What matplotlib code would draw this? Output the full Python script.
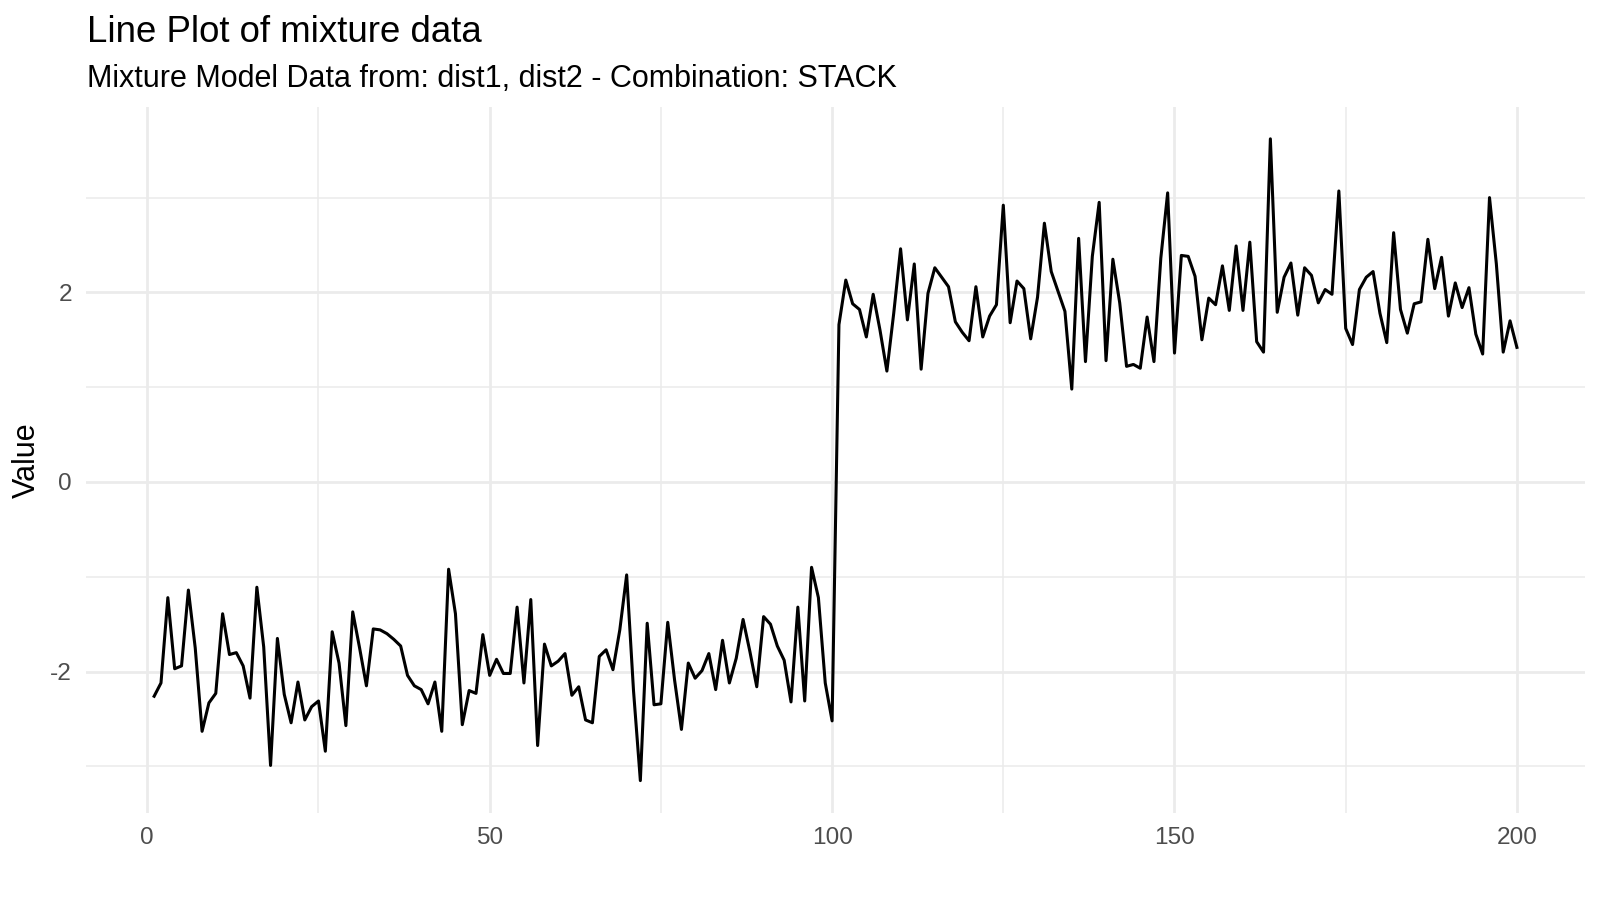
import numpy as np
import matplotlib
matplotlib.use("Agg")
import matplotlib.pyplot as plt
from matplotlib.ticker import MultipleLocator

title = "Line Plot of mixture data"
subtitle = "Mixture Model Data from: dist1, dist2 - Combination: STACK"
y_label = "Value"

# first 100 observations (dist1)
dist1_values = [
    -2.26, -2.12, -1.22, -1.97, -1.94, -1.14, -1.75, -2.63, -2.33, -2.23,
    -1.39, -1.82, -1.80, -1.94, -2.28, -1.11, -1.74, -2.99, -1.65, -2.24,
    -2.54, -2.11, -2.51, -2.37, -2.31, -2.84, -1.58, -1.91, -2.57, -1.37,
    -1.75, -2.15, -1.55, -1.56, -1.60, -1.66, -1.73, -2.04, -2.15, -2.19,
    -2.34, -2.11, -2.63, -0.92, -1.39, -2.56, -2.20, -2.23, -1.61, -2.04,
    -1.87, -2.02, -2.02, -1.32, -2.12, -1.24, -2.78, -1.71, -1.94, -1.89,
    -1.81, -2.25, -2.16, -2.51, -2.54, -1.84, -1.77, -1.98, -1.56, -0.98,
    -2.20, -3.15, -1.49, -2.35, -2.34, -1.48, -2.09, -2.61, -1.91, -2.07,
    -1.99, -1.81, -2.19, -1.67, -2.12, -1.86, -1.45, -1.79, -2.16, -1.42,
    -1.50, -1.73, -1.88, -2.32, -1.32, -2.31, -0.90, -1.22, -2.12, -2.52,
]

# next 100 observations (dist2)
dist2_values = [
    1.66, 2.13, 1.88, 1.82, 1.53, 1.98, 1.60, 1.17, 1.78, 2.46,
    1.71, 2.30, 1.19, 1.99, 2.26, 2.16, 2.06, 1.69, 1.58, 1.49,
    2.06, 1.53, 1.75, 1.87, 2.92, 1.68, 2.12, 2.04, 1.51, 1.95,
    2.73, 2.22, 2.01, 1.80, 0.98, 2.57, 1.27, 2.38, 2.95, 1.28,
    2.35, 1.89, 1.22, 1.24, 1.20, 1.74, 1.27, 2.36, 3.05, 1.36,
    2.39, 2.38, 2.17, 1.50, 1.94, 1.87, 2.28, 1.81, 2.49, 1.81,
    2.53, 1.48, 1.37, 3.62, 1.79, 2.16, 2.31, 1.76, 2.26, 2.18,
    1.89, 2.03, 1.98, 3.07, 1.62, 1.45, 2.03, 2.16, 2.22, 1.78,
    1.47, 2.63, 1.82, 1.57, 1.88, 1.90, 2.56, 2.04, 2.37, 1.75,
    2.10, 1.84, 2.05, 1.56, 1.35, 3.00, 2.30, 1.37, 1.70, 1.42,
]

x_ticks = [0, 50, 100, 150, 200]
y_ticks = [-2, 0, 2]

values = np.array(dist1_values + dist2_values)
index = np.arange(1, len(values) + 1)

plt.rcParams['font.family'] = ['Liberation Sans', 'DejaVu Sans']
plt.rcParams['axes.unicode_minus'] = False

fig = plt.figure(figsize=(8, 4.5), dpi=200)
ax = fig.add_axes([0.05375, 0.097, 0.9369, 0.7844])

ax.plot(index, values, color='black', linewidth=1.1, zorder=3)
ax.margins(x=0.05, y=0.05)

ax.set_xticks(x_ticks)
ax.set_yticks(y_ticks)
ax.xaxis.set_minor_locator(MultipleLocator(25))
ax.yaxis.set_minor_locator(MultipleLocator(1))
ax.grid(which='major', color='#EBEBEB', linewidth=1.0)
ax.grid(which='minor', color='#EBEBEB', linewidth=0.55)
ax.set_axisbelow(True)

for s in ax.spines.values():
    s.set_visible(False)
ax.tick_params(which='both', length=0)
ax.tick_params(which='major', labelsize=8.8, labelcolor='#4D4D4D', pad=5)

fig.text(87 / 1600, 1 - 41.7 / 900, title, fontsize=13.2, color='black',
         ha='left', va='baseline')
fig.text(87 / 1600, 1 - 87.3 / 900, subtitle, fontsize=11, color='black',
         ha='left', va='baseline')
fig.text(27 / 1600, 1 - 459.7 / 900, y_label, fontsize=11, color='black',
         rotation=90, ha='center', va='center')

fig.savefig('out.png', dpi=200, facecolor='white')
